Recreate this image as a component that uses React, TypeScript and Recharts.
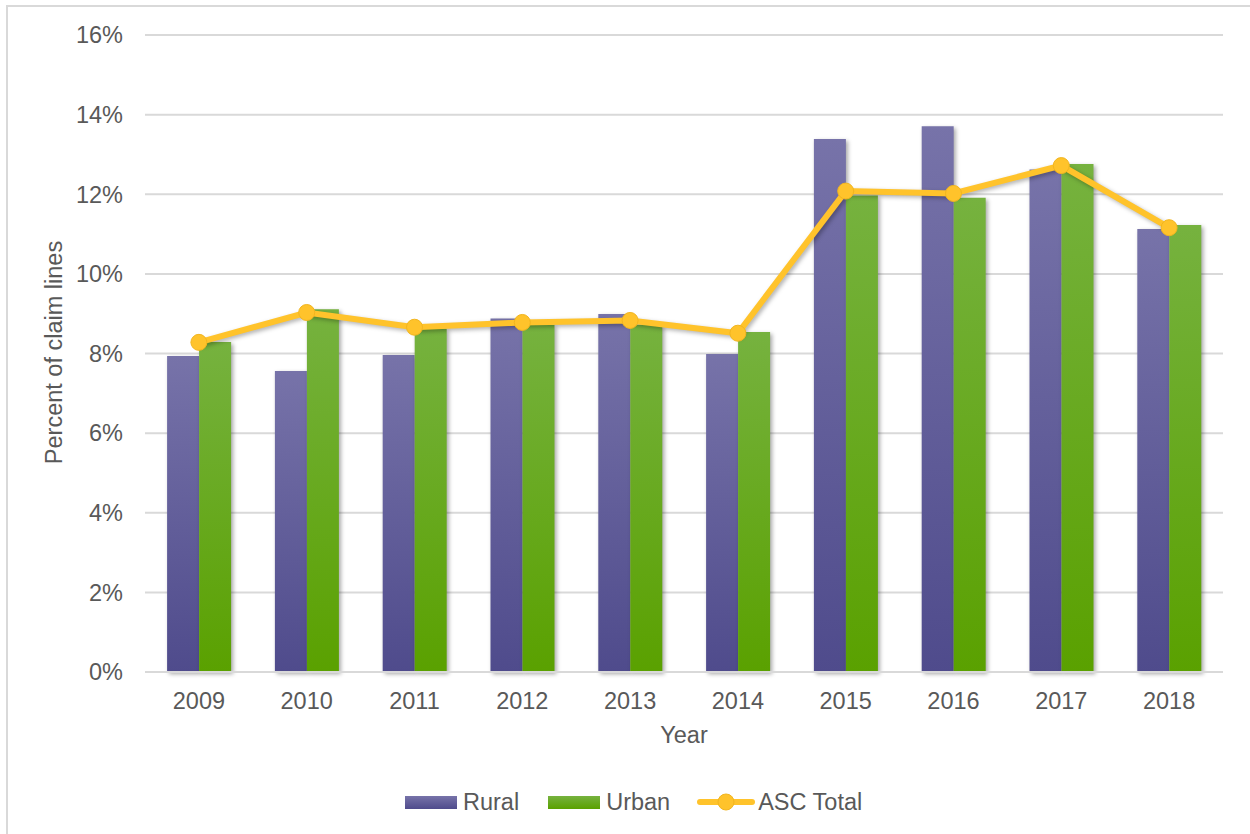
import React from 'react';
import { ComposedChart, Bar, Line, XAxis, YAxis, CartesianGrid, Label } from 'recharts';

const years = ['2009', '2010', '2011', '2012', '2013', '2014', '2015', '2016', '2017', '2018'];
const rural = [7.94, 7.56, 7.96, 8.88, 8.99, 7.99, 13.39, 13.71, 12.62, 11.13];
const urban = [8.29, 9.11, 8.62, 8.72, 8.72, 8.54, 11.97, 11.91, 12.76, 11.23];
const ascTotal = [8.28, 9.03, 8.66, 8.78, 8.83, 8.51, 12.08, 12.02, 12.72, 11.16];
const yTicks = [0, 2, 4, 6, 8, 10, 12, 14, 16];

const data = years.map((y, i) => ({ year: y, rural: rural[i], urban: urban[i], asc: ascTotal[i] }));

const FONT = '"Liberation Sans", Arial, sans-serif';
const TXT = '#595959';
const LINE = '#ffc32b';
const FS = 23.5;

const YLabel = (props: any) => {
  const vb = props.viewBox || { x: 0, y: 0, width: 0, height: 0 };
  const cx = vb.x + 54;
  const cy = vb.y + vb.height / 2 - 1;
  return (
    <text
      x={cx}
      y={cy}
      transform={`rotate(-90 ${cx} ${cy})`}
      textAnchor="middle"
      dominantBaseline="central"
      fill={TXT}
      fontSize={FS}
      fontFamily={FONT}
    >
      Percent of claim lines
    </text>
  );
};

const XLabel = (props: any) => {
  const vb = props.viewBox || { x: 0, y: 0, width: 0, height: 0 };
  return (
    <text
      x={vb.x + vb.width / 2}
      y={vb.y + 63}
      textAnchor="middle"
      dominantBaseline="central"
      fill={TXT}
      fontSize={FS}
      fontFamily={FONT}
    >
      Year
    </text>
  );
};

export default function App() {
  return (
    <div style={{ position: 'absolute', left: 0, top: 0, width: 1250, height: 834, overflow: 'hidden', background: '#fff', fontFamily: FONT }}>
      <style>{`
        .recharts-bar-rectangle path { filter: drop-shadow(2px 2px 2px rgba(0,0,0,0.35)); }
        .asc-line .recharts-line-curve { filter: drop-shadow(2px 2px 2px rgba(0,0,0,0.3)); }
        .asc-line .recharts-line-dots { filter: drop-shadow(2px 2px 2px rgba(0,0,0,0.3)); }
      `}</style>
      <div style={{ position: 'absolute', left: 6, top: 5, width: 1400, height: 1000, border: '2px solid #d9d9d9' }} />
      <div style={{ position: 'absolute', left: 0, top: 0 }}>
        <ComposedChart
          width={1250}
          height={834}
          data={data}
          margin={{ top: 35, right: 27, left: 0, bottom: 72 }}
          barGap={0}
          barCategoryGap="20.5%"
        >
          <defs>
            <linearGradient id="gRural" x1="0" y1="0" x2="0" y2="1">
              <stop offset="0%" stopColor="#7773a9" />
              <stop offset="100%" stopColor="#4f4b8c" />
            </linearGradient>
            <linearGradient id="gUrban" x1="0" y1="0" x2="0" y2="1">
              <stop offset="0%" stopColor="#76b23f" />
              <stop offset="100%" stopColor="#5aa100" />
            </linearGradient>
          </defs>
          <CartesianGrid vertical={false} stroke="#d9d9d9" strokeWidth={2} />
          <XAxis
            dataKey="year"
            height={90}
            tickLine={false}
            axisLine={{ stroke: '#d9d9d9', strokeWidth: 2 }}
            tickSize={0}
            tickMargin={20}
            tick={{ fill: TXT, fontSize: FS, fontFamily: FONT }}
          >
            <Label content={<XLabel />} />
          </XAxis>
          <YAxis
            width={145}
            domain={[0, 16]}
            ticks={yTicks}
            interval={0}
            tickFormatter={(v: number) => `${v}%`}
            tickLine={false}
            axisLine={false}
            tickSize={0}
            tickMargin={22}
            tick={{ fill: TXT, fontSize: FS, fontFamily: FONT }}
          >
            <Label content={<YLabel />} />
          </YAxis>
          <Bar dataKey="rural" name="Rural" fill="url(#gRural)" isAnimationActive={false} />
          <Bar dataKey="urban" name="Urban" fill="url(#gUrban)" isAnimationActive={false} />
          <Line
            className="asc-line"
            dataKey="asc"
            name="ASC Total"
            type="linear"
            stroke={LINE}
            strokeWidth={6}
            dot={{ r: 8, fill: LINE, stroke: '#f2b51f', strokeWidth: 1 }}
            activeDot={false}
            isAnimationActive={false}
          />
        </ComposedChart>
      </div>
      <div style={{ position: 'absolute', left: 405, top: 788, height: 28, display: 'flex', alignItems: 'center', fontSize: FS, color: TXT, fontFamily: FONT }}>
        <div style={{ width: 52, height: 13, background: 'linear-gradient(#7773a9, #4f4b8c)' }} />
        <span style={{ marginLeft: 6 }}>Rural</span>
        <div style={{ width: 52, height: 13, marginLeft: 29, background: 'linear-gradient(#76b23f, #5aa100)' }} />
        <span style={{ marginLeft: 6 }}>Urban</span>
        <svg width={58} height={20} style={{ marginLeft: 27 }}>
          <line x1={3} y1={10} x2={55} y2={10} stroke={LINE} strokeWidth={6} strokeLinecap="round" />
          <circle cx={29} cy={10} r={8} fill={LINE} stroke="#f2b51f" strokeWidth={1} />
        </svg>
        <span style={{ marginLeft: 3 }}>ASC Total</span>
      </div>
    </div>
  );
}
